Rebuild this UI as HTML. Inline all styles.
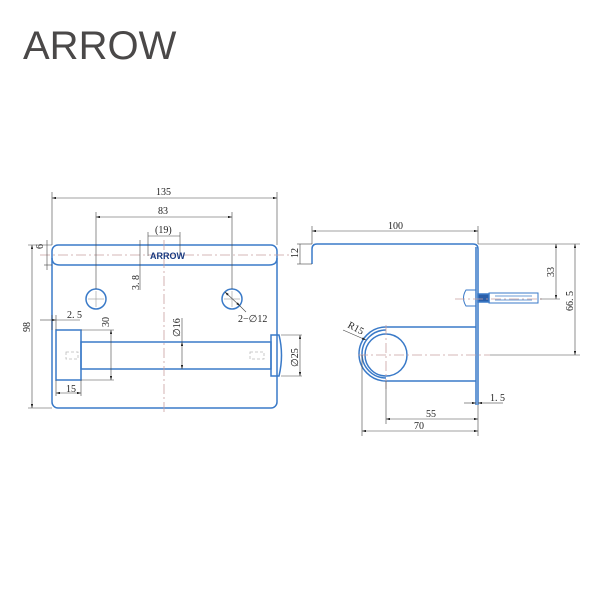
<!DOCTYPE html>
<html><head><style>
body{margin:0;background:#fff}
svg{display:block}
text{font-family:"Liberation Serif",serif;font-size:10px;fill:#222}
</style></head><body>
<svg width="600" height="600" viewBox="0 0 600 600" xmlns="http://www.w3.org/2000/svg">
<defs>
<marker id="a" viewBox="0 0 10 6" refX="10" refY="3" markerWidth="8" markerHeight="4" orient="auto-start-reverse"><path d="M0,0L10,3L0,6z" fill="#222"/></marker>
</defs>
<text x="23" y="59" style="font-family:'Liberation Sans',sans-serif;font-size:40px;fill:#4a4848">ARROW</text>

<!-- LEFT VIEW -->
<g fill="none" stroke="#3a7ac8" stroke-width="1.5">
<rect x="52" y="245" width="225" height="163" rx="6"/>
<path d="M52,258 Q52,265 60,265 L269,265 Q277,265 277,258"/>
<circle cx="96" cy="299" r="10"/>
<circle cx="232" cy="299" r="10"/>
<rect x="56" y="330" width="25" height="50"/>
<rect x="81" y="342" width="190" height="27"/>
<path d="M271,335 L279,335 Q284,355 279,376 L271,376 Z"/>
</g>
<g stroke="#c9a0a0" stroke-width="0.8" stroke-dasharray="10,3,2,3" fill="none">
<line x1="40" y1="255" x2="290" y2="255"/>
<line x1="164" y1="240" x2="164" y2="412"/>
</g>
<g stroke="#bbb" stroke-width="0.8" fill="none" stroke-dasharray="3,2">
<rect x="66" y="352" width="12" height="7"/><rect x="250" y="352" width="14" height="7"/>
</g>
<g stroke="#999" stroke-width="0.6">
<line x1="88" y1="299" x2="104" y2="299"/><line x1="96" y1="291" x2="96" y2="307"/>
<line x1="224" y1="299" x2="240" y2="299"/><line x1="232" y1="291" x2="232" y2="307"/>
</g>
<g stroke="#444" stroke-width="0.6" fill="none">
<line x1="52" y1="192" x2="52" y2="245"/><line x1="277" y1="192" x2="277" y2="245"/>
<line x1="52" y1="198" x2="277" y2="198" marker-start="url(#a)" marker-end="url(#a)"/>
<line x1="96" y1="212" x2="96" y2="289"/><line x1="232" y1="212" x2="232" y2="289"/>
<line x1="96" y1="217" x2="232" y2="217" marker-start="url(#a)" marker-end="url(#a)"/>
<line x1="148" y1="232" x2="148" y2="256"/><line x1="180" y1="232" x2="180" y2="256"/>
<line x1="148" y1="236" x2="180" y2="236"/>
<line x1="28" y1="245" x2="52" y2="245"/><line x1="28" y1="408" x2="52" y2="408"/>
<line x1="32" y1="245" x2="32" y2="408" marker-start="url(#a)" marker-end="url(#a)"/>
<line x1="44" y1="265" x2="52" y2="265"/>
<line x1="47" y1="240" x2="47" y2="270"/>
<line x1="140" y1="240" x2="140" y2="290"/>
<line x1="225" y1="292" x2="240" y2="306" marker-start="url(#a)" marker-end="url(#a)"/>
<line x1="240" y1="306" x2="246" y2="312"/>
<line x1="40" y1="320" x2="56" y2="320" marker-end="url(#a)"/>
<line x1="52" y1="315" x2="52" y2="330"/><line x1="56" y1="315" x2="56" y2="330"/>
<line x1="56" y1="320" x2="80" y2="320"/>
<line x1="81" y1="330" x2="114" y2="330"/><line x1="81" y1="380" x2="114" y2="380"/>
<line x1="111" y1="330" x2="111" y2="380" marker-start="url(#a)" marker-end="url(#a)"/>
<line x1="182" y1="342" x2="182" y2="369" marker-start="url(#a)" marker-end="url(#a)"/>
<line x1="182" y1="318" x2="182" y2="342"/>
<line x1="281" y1="335" x2="302" y2="335"/><line x1="281" y1="376" x2="302" y2="376"/>
<line x1="300" y1="335" x2="300" y2="376" marker-start="url(#a)" marker-end="url(#a)"/>
<line x1="56" y1="380" x2="56" y2="396"/><line x1="81" y1="380" x2="81" y2="396"/>
<line x1="56" y1="393" x2="81" y2="393" marker-start="url(#a)" marker-end="url(#a)"/>
</g>
<text x="156" y="195">135</text>
<text x="158" y="214">83</text>
<text x="155" y="233">(19)</text>
<text x="150" y="259" style="font-family:'Liberation Sans',sans-serif;font-size:9px;font-weight:bold;fill:#1a3a80">ARROW</text>
<text x="238" y="322">2−∅12</text>
<text x="67" y="318">2. 5</text>
<text x="66" y="392">15</text>
<text transform="translate(43,249) rotate(-90)">6</text>
<text transform="translate(30,332) rotate(-90)">98</text>
<text transform="translate(139,290) rotate(-90)">3. 8</text>
<text transform="translate(109,327) rotate(-90)">30</text>
<text transform="translate(180,337) rotate(-90)">∅16</text>
<text transform="translate(298,367) rotate(-90)">∅25</text>

<!-- RIGHT VIEW -->
<g fill="none" stroke="#3a7ac8" stroke-width="1.5">
<path d="M312,264 L312,249 Q312,244 317,244 L473,244 Q478,244 478,249 L478,405"/>
<line x1="476" y1="247" x2="476" y2="405"/>
<path d="M386,327 L476,327 M386,381 L476,381"/>
<path d="M386,327 A27,27 0 0 0 386,381"/>
<path d="M386,330 A24,24 0 0 0 386,378"/>
<circle cx="386" cy="355" r="21"/>
<path d="M466,290 Q461,298 466,306 L476,306 L476,290 Z" stroke-width="1"/>
<rect x="478" y="294" width="11" height="8" fill="#2a5ea8"/>
<rect x="489" y="293" width="49" height="10" stroke-width="1"/>
<line x1="495" y1="296" x2="532" y2="296" stroke-width="0.8"/><line x1="495" y1="300" x2="532" y2="300" stroke-width="0.8"/>
</g>
<g stroke="#c9a0a0" stroke-width="0.8" stroke-dasharray="10,3,2,3" fill="none">
<line x1="358" y1="355" x2="490" y2="355"/>
<line x1="386" y1="325" x2="386" y2="390"/>
<line x1="455" y1="299" x2="545" y2="299"/>
</g>
<g stroke="#444" stroke-width="0.6" fill="none">
<line x1="312" y1="226" x2="312" y2="244"/><line x1="478" y1="226" x2="478" y2="244"/>
<line x1="312" y1="231" x2="478" y2="231" marker-start="url(#a)" marker-end="url(#a)"/>
<line x1="297" y1="244" x2="312" y2="244"/><line x1="297" y1="264" x2="312" y2="264"/>
<line x1="300" y1="244" x2="300" y2="264"/>
<line x1="478" y1="244" x2="580" y2="244"/>
<line x1="556" y1="244" x2="556" y2="299" marker-start="url(#a)" marker-end="url(#a)"/>
<line x1="540" y1="299" x2="560" y2="299"/>
<line x1="490" y1="355" x2="580" y2="355"/>
<line x1="575" y1="244" x2="575" y2="355" marker-start="url(#a)" marker-end="url(#a)"/>
<line x1="386" y1="381" x2="386" y2="424"/>
<line x1="362" y1="355" x2="362" y2="436"/>
<line x1="478" y1="405" x2="478" y2="436"/>
<line x1="386" y1="419" x2="478" y2="419" marker-start="url(#a)" marker-end="url(#a)"/>
<line x1="362" y1="431" x2="478" y2="431" marker-start="url(#a)" marker-end="url(#a)"/>
<line x1="464" y1="403" x2="476" y2="403" marker-end="url(#a)"/>
<line x1="490" y1="403" x2="478" y2="403" marker-end="url(#a)"/>
<line x1="490" y1="403" x2="503" y2="403"/>
<line x1="343" y1="330" x2="366" y2="340" marker-end="url(#a)"/>
</g>
<text x="388" y="229">100</text>
<text x="426" y="417">55</text>
<text x="414" y="429">70</text>
<text x="490" y="401">1. 5</text>
<text transform="translate(347,327) rotate(28)">R15</text>
<text transform="translate(298,258) rotate(-90)">12</text>
<text transform="translate(554,277) rotate(-90)">33</text>
<text transform="translate(573,311) rotate(-90)">66. 5</text>
</svg>
</body></html>
